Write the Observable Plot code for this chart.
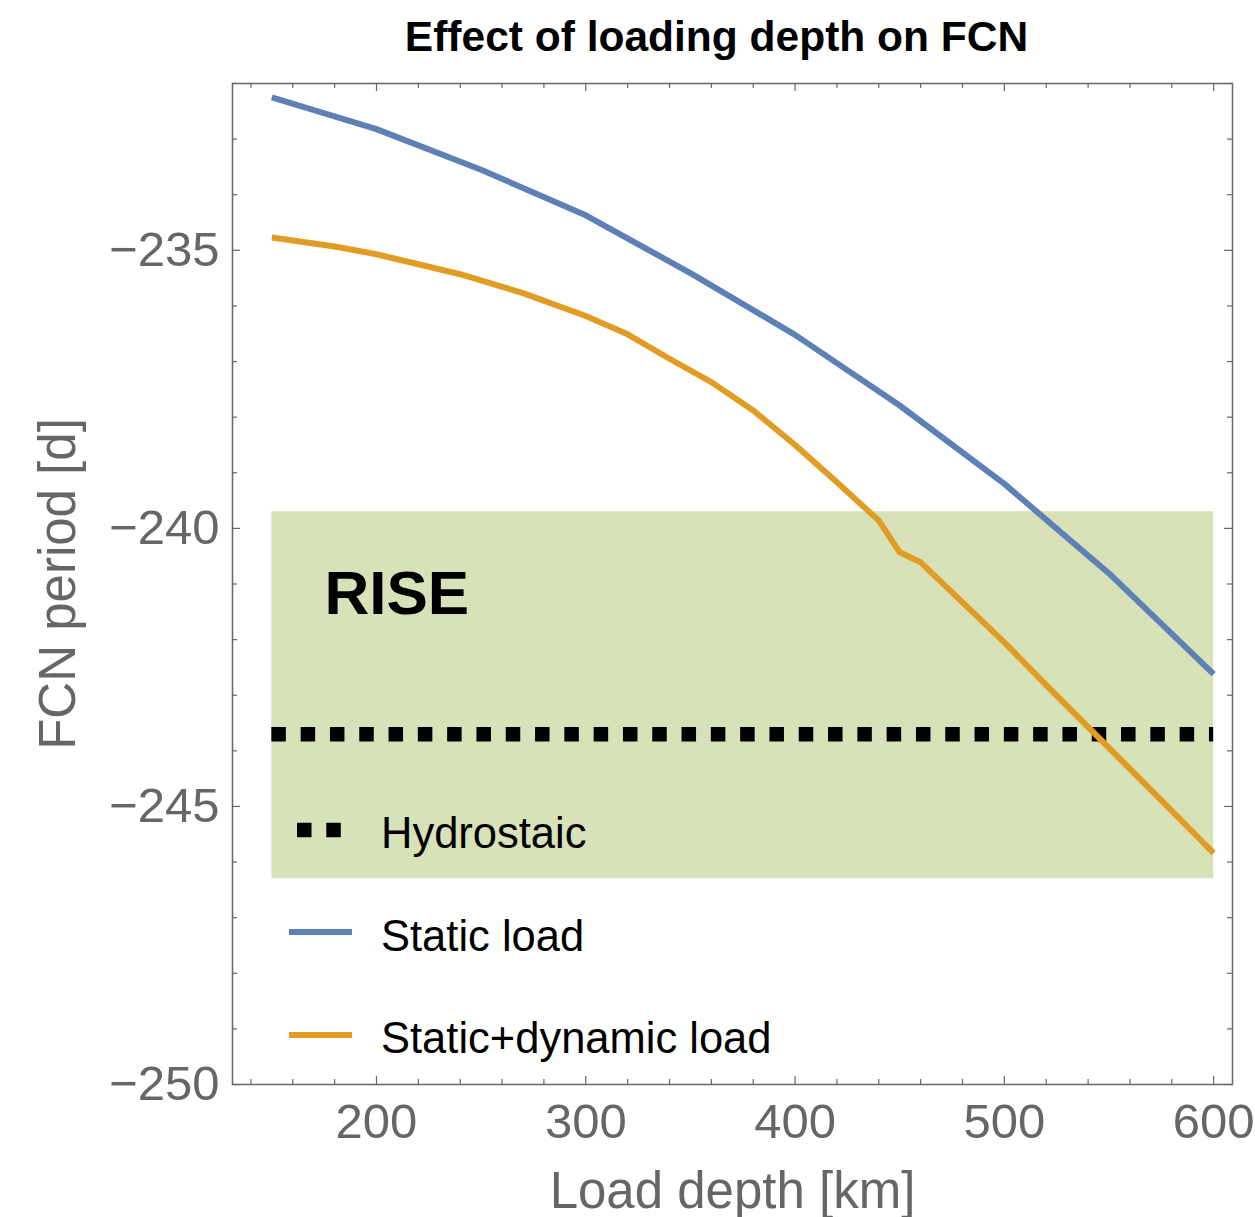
<!DOCTYPE html>
<html>
<head>
<meta charset="utf-8">
<script src="https://cdn.jsdelivr.net/npm/d3@7"></script>
<script src="https://cdn.jsdelivr.net/npm/@observablehq/plot@0.6"></script>
<style>
  body { margin: 0; background: #fff; font-family: "Liberation Sans", Arial, Helvetica, sans-serif; }
  #wrap { position: relative; width: 1255px; height: 1217px; }
  #title {
    position: absolute; left: 178px; top: 16px; width: 1077px;
    text-align: center; font-weight: bold; font-size: 42.5px; line-height: 42px; color: #000;
  }
  #chart { position: absolute; left: 0; top: 70px; }
  #legend { position: absolute; left: 0; top: 0; pointer-events: none; }
</style>
</head>
<body>
<div id="wrap">
  <div id="title">Effect of loading depth on FCN</div>
  <div id="chart"></div>
</div>
<script>
// FCN period [d] versus load depth [km]
const depth = [150, 200, 250, 300, 350, 400, 450, 500, 550, 600];
const staticLoad = [-232.25, -232.82, -233.55, -234.37, -235.41, -236.52, -237.79, -239.2, -240.81, -242.62];

const dynDepth = [150, 180, 200, 220, 240, 270, 300, 320, 340, 360, 380, 400, 420, 440, 450, 460, 500, 520, 570, 600];
const dynamicLoad = [-234.77, -234.93, -235.07, -235.25, -235.43, -235.77, -236.18, -236.51, -236.95, -237.37,
                     -237.88, -238.5, -239.17, -239.86, -240.43, -240.61, -242.05, -242.82, -244.7, -245.84];

const hydrostatic = -243.7;          // hydrostatic reference period
const riseRange = [-246.3, -239.7];  // RISE period band

const seriesNames = ["Hydrostaic", "Static load", "Static+dynamic load"];
const seriesColors = ["#000000", "#5E81B5", "#E19C24"];

const xDomain = [131.2, 609];
const yDomain = [-250, -232];
const xMajor = [200, 300, 400, 500, 600];
const xMinor = d3.range(140, 601, 20).filter(v => v % 100 !== 0);
const yMajor = [-250, -245, -240, -235];
const yMinor = d3.range(-249, -231, 1).filter(v => v % 5 !== 0);

const W = 1255, H = 1147;
const mTop = 13, mBottom = 133, mLeft = 232, mRight = 23;
const plotH = H - mTop - mBottom, plotW = W - mLeft - mRight;
const axisGray = "#666666";

const band = [{x1: d3.min(depth), x2: d3.max(depth), y1: riseRange[0], y2: riseRange[1]}];
const hydro = [{y: hydrostatic, x1: d3.min(depth), x2: d3.max(depth)}];

// inward frame ticks on all four sides
function ticksX(values, len) {
  return [
    Plot.ruleX(values, {x: d => d, insetTop: plotH - len, stroke: axisGray, strokeWidth: 1.2}),
    Plot.ruleX(values, {x: d => d, insetBottom: plotH - len, stroke: axisGray, strokeWidth: 1.2})
  ];
}
function ticksY(values, len) {
  return [
    Plot.ruleY(values, {y: d => d, insetRight: plotW - len, stroke: axisGray, strokeWidth: 1.2}),
    Plot.ruleY(values, {y: d => d, insetLeft: plotW - len, stroke: axisGray, strokeWidth: 1.2})
  ];
}

const chart = Plot.plot({
  width: W,
  height: H,
  marginTop: mTop,
  marginBottom: mBottom,
  marginLeft: mLeft,
  marginRight: mRight,
  style: {fontFamily: "'Liberation Sans', Arial, Helvetica, sans-serif", background: "#fff"},
  x: {domain: xDomain},
  y: {domain: yDomain},
  marks: [
    Plot.rect(band, {x1: "x1", x2: "x2", y1: "y1", y2: "y2", fill: "#d8e2b8"}),
    Plot.text(["RISE"], {frameAnchor: "top-left", dx: 92, dy: 530, lineAnchor: "bottom", textAnchor: "start",
      fontWeight: "bold", fontSize: 62, fill: "#000"}),
    Plot.ruleY(hydro, {y: "y", x1: "x1", x2: "x2", stroke: seriesColors[0], strokeWidth: 14.5,
      strokeDasharray: "14.5,14.8"}),
    Plot.line(staticLoad, {x: (d, i) => depth[i], y: d => d, stroke: seriesColors[1], strokeWidth: 6,
      strokeLinecap: "butt", strokeLinejoin: "round"}),
    Plot.line(dynamicLoad, {x: (d, i) => dynDepth[i], y: d => d, stroke: seriesColors[2], strokeWidth: 6,
      strokeLinecap: "butt", strokeLinejoin: "round"}),
    Plot.frame({stroke: axisGray, strokeWidth: 1.5}),
    ...ticksX(xMajor, 8), ...ticksX(xMinor, 5),
    ...ticksY(yMajor, 8), ...ticksY(yMinor, 5),
    Plot.axisX(xMajor, {anchor: "bottom", tickSize: 0, tickPadding: 19, fontSize: 49, color: axisGray, label: null}),
    Plot.axisY(yMajor, {anchor: "left", tickSize: 0, tickPadding: 13, fontSize: 49, color: axisGray, label: null,
      tickFormat: d => "\u2212" + Math.abs(d)}),
    Plot.text(["Load depth [km]"], {frameAnchor: "bottom", dy: 123, lineAnchor: "bottom", textAnchor: "middle",
      fontSize: 51, fill: axisGray}),
    Plot.text(["FCN period [d]"], {frameAnchor: "left", dx: -158, rotate: -90, lineAnchor: "bottom",
      textAnchor: "middle", fontSize: 51, fill: axisGray})
  ]
});
document.getElementById("chart").append(chart);

// legend drawn inside the plot area
const leg = d3.select("#wrap").append("svg")
  .attr("id", "legend").attr("width", W).attr("height", 1217)
  .style("font-family", "'Liberation Sans', Arial, Helvetica, sans-serif");
const rows = [
  {name: seriesNames[0], color: seriesColors[0], swatchY: 830, baseline: 848, dotted: true},
  {name: seriesNames[1], color: seriesColors[1], swatchY: 932, baseline: 951, dotted: false},
  {name: seriesNames[2], color: seriesColors[2], swatchY: 1035, baseline: 1053, dotted: false}
];
rows.forEach(r => {
  if (r.dotted) {
    leg.append("line").attr("x1", 297).attr("x2", 341).attr("y1", r.swatchY).attr("y2", r.swatchY)
      .attr("stroke", r.color).attr("stroke-width", 14.5).attr("stroke-dasharray", "14.5,14.8");
  } else {
    leg.append("line").attr("x1", 289).attr("x2", 352).attr("y1", r.swatchY).attr("y2", r.swatchY)
      .attr("stroke", r.color).attr("stroke-width", 6);
  }
  leg.append("text").attr("x", 381).attr("y", r.baseline).attr("font-size", 43.5).attr("fill", "#000").text(r.name);
});
</script>
</body>
</html>
